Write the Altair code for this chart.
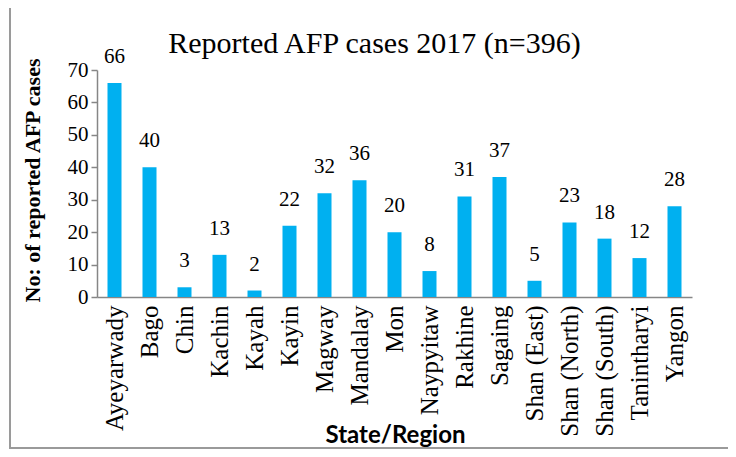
import altair as alt
import pandas as pd

regions = ["Ayeyarwady", "Bago", "Chin", "Kachin", "Kayah", "Kayin", "Magway",
           "Mandalay", "Mon", "Naypyitaw", "Rakhine", "Sagaing", "Shan (East)",
           "Shan (North)", "Shan (South)", "Tanintharyi", "Yangon"]
cases = [66, 40, 3, 13, 2, 22, 32, 36, 20, 8, 31, 37, 5, 23, 18, 12, 28]
y_ticks = [0, 10, 20, 30, 40, 50, 60, 70]

df = pd.DataFrame({"region": regions, "cases": cases})

SERIF = "Liberation Serif, Times New Roman, serif"
W, H = 595, 227

x_enc = alt.X("region:N", sort=regions, title="State/Region",
              scale=alt.Scale(paddingInner=0.6, paddingOuter=0.3),
              axis=alt.Axis(labelAngle=-90, labelFont=SERIF, labelFontSize=25,
                            labelColor="black", labelPadding=8, ticks=False,
                            labelOverlap=False,
                            domainColor="#868686", domainWidth=1.5,
                            titleFont="Lato", titleFontSize=24, titleFontWeight="bold",
                            titleColor="black", titleBaseline="alphabetic",
                            titleY=145, titleX=298))
y_enc = alt.Y("cases:Q", title="No: of reported AFP cases",
              scale=alt.Scale(domain=[0, 70], nice=False),
              axis=alt.Axis(values=y_ticks, grid=False, labelFont=SERIF, labelFontSize=21,
                            labelColor="black", tickSize=6, tickColor="#868686",
                            tickWidth=1.5, labelPadding=3, labelOverlap=False,
                            domainColor="#868686", domainWidth=1.5,
                            titleFont=SERIF, titleFontSize=22, titleFontWeight="bold",
                            titleColor="black", titleX=-53, titleY=110))

base = alt.Chart(df).encode(x=x_enc, y=y_enc)
bars = base.mark_bar(color="#00B0F0")
labels = base.mark_text(font=SERIF, fontSize=21, color="black",
                        baseline="alphabetic", dy=-20).encode(text="cases:Q")

frame_df = pd.DataFrame({"k": [0]})
left_line = alt.Chart(frame_df).mark_rule(color="#9a9a9a", strokeWidth=2).encode(
    x=alt.value(-87), y=alt.value(-62), y2=alt.value(378))
bottom_line = alt.Chart(frame_df).mark_rule(color="#9a9a9a", strokeWidth=2).encode(
    x=alt.value(-88), x2=alt.value(631), y=alt.value(378))

chart = alt.layer(bars, labels, left_line, bottom_line).properties(
    width=W, height=H,
    title=alt.TitleParams("Reported AFP cases 2017 (n=396)", font=SERIF, fontSize=30,
                          fontWeight="normal", color="black", anchor="middle",
                          baseline="alphabetic", frame="group", dx=-20, offset=-76),
    padding={"left": 89, "top": 62, "right": 36, "bottom": 152},
    autosize=alt.AutoSizeParams(type="none"),
).configure_view(stroke=None)

chart.save("out.html", embed_options={"renderer": "svg", "actions": False})
